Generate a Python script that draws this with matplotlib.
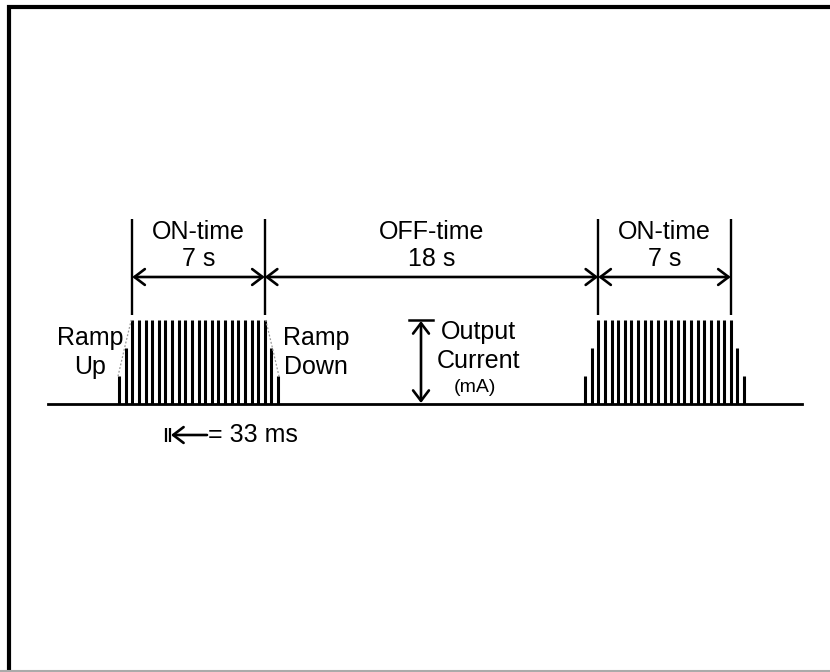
import numpy as np
import matplotlib.pyplot as plt
from matplotlib.patches import FancyArrowPatch

plt.rcParams['font.family'] = ['Liberation Sans', 'DejaVu Sans']

# pulse amplitudes in one burst (fraction of full output current)
amps = [0.33, 0.67] + [1.0] * 21 + [0.67, 0.33]
burst_start = [119, 585]     # x of the first pulse of each burst (drawing units)
pulse_step = 6.625           # one 33 ms period on the drawing
phase_names = ["ON-time", "OFF-time", "ON-time"]
phase_times = ["7 s", "18 s", "7 s"]

base_y = 404
full_h = 84
fs = 18


def darrow(ax, p, q, style='<->'):
    ax.add_patch(FancyArrowPatch(p, q, arrowstyle=style + ',head_length=0.5,head_width=0.38',
                                 mutation_scale=15, lw=1.9, color='black',
                                 shrinkA=0, shrinkB=0))


fig = plt.figure(figsize=(8.3, 6.72), dpi=100)
ax = fig.add_axes([0, 0, 1, 1])
ax.set_xlim(0, 830)
ax.set_ylim(672, 0)
ax.axis('off')

# frame (cropped box)
ax.plot([9, 9, 832], [680, 7, 7], color='black', lw=3, solid_joinstyle='miter')
ax.plot([0, 830], [671, 671], color='#aaaaaa', lw=1.5)

# baseline
ax.plot([48, 802], [base_y, base_y], color='black', lw=2)

edges = []
for i, x0 in enumerate(burst_start):
    xs = x0 + pulse_step * np.arange(len(amps))
    tops = base_y - full_h * np.array(amps)
    ax.vlines(xs, base_y, tops, color='black', lw=2.2)
    if i == 0:
        ax.plot(xs[:3] - 1, tops[:3], color='#999999', lw=0.9, ls=(0, (1.5, 1.5)))
        ax.plot(xs[-3:] + 1, tops[-3:], color='#999999', lw=0.9, ls=(0, (1.5, 1.5)))
    edges += [xs[2], xs[-3]]

edges = sorted(set(np.round(edges, 2)))
ax.vlines(edges, 219, 315, color='black', lw=1.7)

for k in range(len(edges) - 1):
    darrow(ax, (edges[k], 277), (edges[k + 1], 277))
    xm = (edges[k] + edges[k + 1]) / 2
    ax.text(xm, 232, phase_names[k], ha='center', va='center', fontsize=fs)
    ax.text(xm, 259, phase_times[k], ha='center', va='center', fontsize=fs)

# ramp labels
for x, words in [(90, ("Ramp", "Up")), (316, ("Ramp", "Down"))]:
    ax.text(x, 338, words[0], ha='center', va='center', fontsize=fs)
    ax.text(x, 367, words[1], ha='center', va='center', fontsize=fs)

# output current marker
ax.plot([409, 433], [base_y - full_h, base_y - full_h], color='black', lw=1.8)
darrow(ax, (421, base_y - full_h + 1), (421, base_y - 1))
ax.text(478, 332, "Output", ha='center', va='center', fontsize=fs)
ax.text(478, 361, "Current", ha='center', va='center', fontsize=fs)
ax.text(475, 387, "(mA)", ha='center', va='center', fontsize=14)

# pulse period note
ax.vlines([166, 170], 428, 442, color='black', lw=1.6)
darrow(ax, (207, 435), (171, 435), style='->')
ax.text(208, 435, "= 33 ms", ha='left', va='center', fontsize=fs)

fig.savefig("out.png", dpi=100)
